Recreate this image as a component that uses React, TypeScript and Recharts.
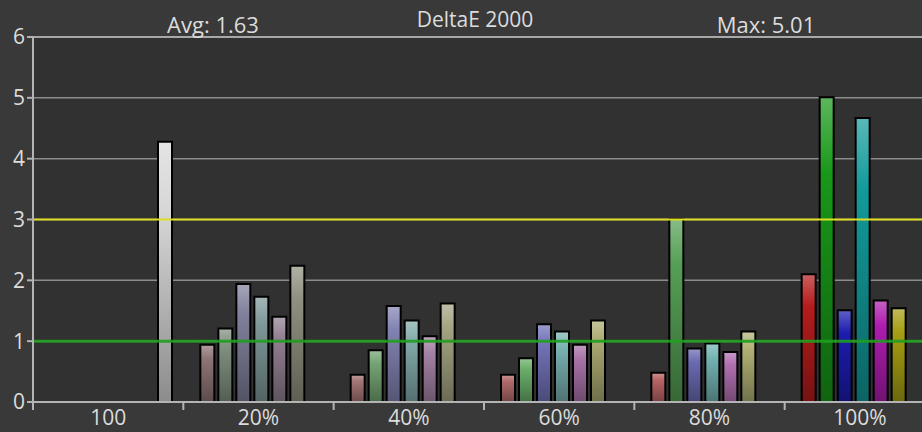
import React from 'react';
import { BarChart, Bar, XAxis, YAxis, CartesianGrid, ReferenceLine, Cell, Rectangle } from 'recharts';

const categories = ['100', '20%', '40%', '60%', '80%', '100%'];

const red = [null, 0.94, 0.45, 0.45, 0.48, 2.1];
const green = [null, 1.21, 0.85, 0.72, 3.01, 5.01];
const blue = [null, 1.94, 1.58, 1.28, 0.88, 1.51];
const cyan = [null, 1.73, 1.34, 1.16, 0.96, 4.67];
const magenta = [null, 1.4, 1.08, 0.94, 0.82, 1.67];
const yellow = [null, 2.24, 1.62, 1.34, 1.16, 1.54];
const white = [4.28, null, null, null, null, null];

const yTicks = [0, 1, 2, 3, 4, 5, 6];
const goodLimit = 1;
const okLimit = 3;

const avgLabel = 'Avg: 1.63';
const titleLabel = 'DeltaE 2000';
const maxLabel = 'Max: 5.01';

// base colour of each bar, per group (desaturated at low levels)
const redColors = ['#888', '#8e7474', '#a47474', '#b06a6a', '#b86464', '#b41c1c'];
const greenColors = ['#888', '#7f907f', '#74a474', '#6aae6a', '#559f55', '#189818'];
const blueColors = ['#888', '#80809c', '#8282b2', '#7272b8', '#6a6ab2', '#1c1cae'];
const cyanColors = ['#888', '#7f9898', '#82aaaa', '#78b0b0', '#74b2b2', '#139a9a'];
const magentaColors = ['#888', '#927f92', '#a482a4', '#a872a8', '#b070b0', '#ae1cae'];
const yellowColors = ['#888', '#909080', '#a4a482', '#aaaa72', '#b0b074', '#a69e14'];
const whiteColors = ['#d8d8d8', '#888', '#888', '#888', '#888', '#888'];

const SERIES = [
  { key: 'red', values: red, colors: redColors },
  { key: 'green', values: green, colors: greenColors },
  { key: 'blue', values: blue, colors: blueColors },
  { key: 'cyan', values: cyan, colors: cyanColors },
  { key: 'magenta', values: magenta, colors: magentaColors },
  { key: 'yellow', values: yellow, colors: yellowColors },
  { key: 'white', values: white, colors: whiteColors },
];

const data = categories.map((name, i) => {
  const row: any = { name };
  SERIES.forEach(s => { row[s.key] = s.values[i]; });
  return row;
});

const W = 940;
const H = 432;
const MARGIN = { top: 37, right: 5, bottom: 0, left: 0 };
const Y_AXIS_W = 33;
const X_AXIS_H = 30;
const HALF_BAND = (W - MARGIN.left - MARGIN.right - Y_AXIS_W) / categories.length / 2;
const BAR_SHIFT = 3;
const AXIS_COLOR = '#b4b4b4';
const TEXT_COLOR = '#dcdcdc';
const FONT = '"Open Sans", "Noto Sans", sans-serif';

const mix = (hex: string, target: number, t: number) => {
  const n = parseInt(hex.slice(1), 16);
  const ch = [(n >> 16) & 255, (n >> 8) & 255, n & 255].map(v => Math.round(v + (target - v) * t));
  return `rgb(${ch[0]},${ch[1]},${ch[2]})`;
};

const ShiftedBar = (props: any) => <Rectangle {...props} x={props.x + BAR_SHIFT} />;

const XTick = (props: any) => {
  const { x, y, payload } = props;
  return (
    <g>
      <line x1={x - HALF_BAND} x2={x - HALF_BAND} y1={y} y2={y + 8} stroke={AXIS_COLOR} strokeWidth={2} />
      <text x={x} y={y + 23} textAnchor="middle" fill={TEXT_COLOR} fontSize={21} fontFamily={FONT}>
        {payload.value}
      </text>
    </g>
  );
};

const App: React.FC = () => {
  return (
    <div style={{ position: 'absolute', left: 0, top: 0, width: 922, height: H, overflow: 'hidden', background: '#393939' }}>
      <BarChart
        width={W}
        height={H}
        data={data}
        margin={MARGIN}
        barSize={14}
        barGap={4}
      >
        <defs>
          {SERIES.map(s =>
            s.colors.map((c, i) => (
              <linearGradient key={`${s.key}-${i}`} id={`g-${s.key}-${i}`} x1="0" y1="0" x2="0" y2="1">
                <stop offset="0%" stopColor={mix(c, 255, 0.3)} />
                <stop offset="25%" stopColor={c} />
                <stop offset="100%" stopColor={mix(c, 0, 0.35)} />
              </linearGradient>
            ))
          )}
        </defs>
        <CartesianGrid vertical={false} stroke="#8c8c8c" strokeWidth={1.5} fill="#313131" />
        <XAxis
          dataKey="name"
          height={X_AXIS_H}
          axisLine={{ stroke: AXIS_COLOR, strokeWidth: 2 }}
          tickLine={false}
          tickSize={0}
          tickMargin={0}
          tick={<XTick />}
          interval={0}
        />
        <YAxis
          width={Y_AXIS_W}
          domain={[0, 6]}
          ticks={yTicks}
          allowDataOverflow
          axisLine={{ stroke: AXIS_COLOR, strokeWidth: 2 }}
          tickLine={{ stroke: AXIS_COLOR, strokeWidth: 2 }}
          tickSize={6}
          tickMargin={2}
          tick={{ fill: TEXT_COLOR, fontSize: 21, fontFamily: FONT }}
        />
        {SERIES.map(s => (
          <Bar
            key={s.key}
            dataKey={s.key}
            stroke="#000"
            strokeWidth={2}
            shape={ShiftedBar}
            isAnimationActive={false}
          >
            {data.map((_, i) => (
              <Cell key={i} fill={`url(#g-${s.key}-${i})`} />
            ))}
          </Bar>
        ))}
        <ReferenceLine y={6} stroke="#a8a8a8" strokeWidth={2} />
        <ReferenceLine y={okLimit} stroke="#dede22" strokeWidth={2} />
        <ReferenceLine y={goodLimit} stroke="#1f9f1f" strokeWidth={3} strokeOpacity={0.9} />
      </BarChart>
      <svg width={922} height={40} style={{ position: 'absolute', left: 0, top: 0 }}>
        <text x={213} y={33} textAnchor="middle" fill={TEXT_COLOR} fontSize={22} fontFamily={FONT}>{avgLabel}</text>
        <text x={475} y={27} textAnchor="middle" fill={TEXT_COLOR} fontSize={21} fontFamily={FONT}>{titleLabel}</text>
        <text x={766} y={33} textAnchor="middle" fill={TEXT_COLOR} fontSize={22} fontFamily={FONT}>{maxLabel}</text>
      </svg>
    </div>
  );
};

export default App;
